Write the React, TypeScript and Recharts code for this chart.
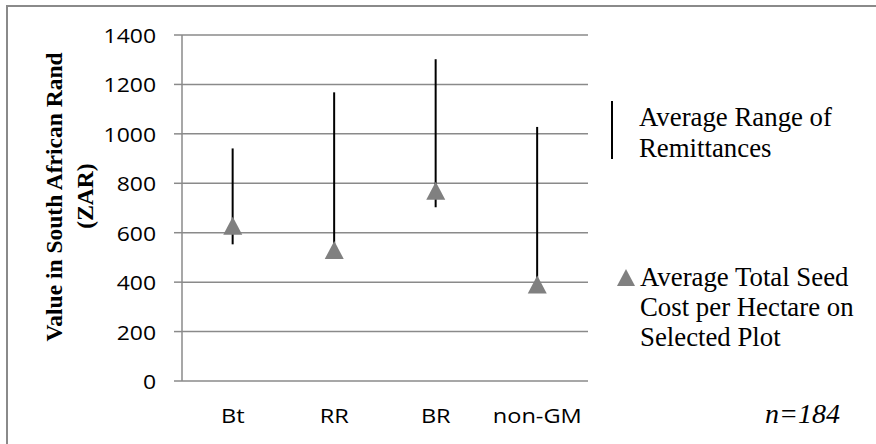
import React from 'react';
import { ComposedChart, Bar, Scatter, XAxis, YAxis, CartesianGrid } from 'recharts';

const categories = ['Bt', 'RR', 'BR', 'non-GM'];
const rangeLow = [553, 530, 703, 390];
const rangeHigh = [941, 1168, 1302, 1028];
const seedCost = [628, 530, 770, 390];
const yTicks = [0, 200, 400, 600, 800, 1000, 1200, 1400];
const boundaryTicks = [0, 1, 2, 3, 4];

const data = categories.map((name, i) => ({
  name,
  range: [rangeLow[i], rangeHigh[i]],
  cost: seedCost[i],
}));

const GRID = '#8a8a8a';
const SANS = '"Open Sans", "Noto Sans", sans-serif';
const SERIF = '"Liberation Serif", "Times New Roman", serif';

const YTick = (props: any) => {
  const { x, y, payload } = props;
  return (
    <text
      transform={`translate(${x},${y}) scale(1.12,1)`}
      textAnchor="end"
      dominantBaseline="central"
      fontFamily={SANS}
      fontSize={20.5}
      fill="#000"
    >
      {payload.value}
    </text>
  );
};

const XTick = (props: any) => {
  const { x, y, payload } = props;
  return (
    <text
      transform={`translate(${x},${y + 34}) scale(1.15,1)`}
      textAnchor="middle"
      dominantBaseline="central"
      fontFamily={SANS}
      fontSize={20.5}
      fill="#000"
    >
      {payload.value}
    </text>
  );
};

const RangeShape = (p: any) => {
  const cx = p.x + p.width / 2;
  const top = Math.min(p.y, p.y + p.height);
  const bot = Math.max(p.y, p.y + p.height);
  return <line x1={cx} x2={cx} y1={top} y2={bot} stroke="#000" strokeWidth={2} />;
};

const TriShape = (p: any) => {
  const { cx, cy } = p;
  return (
    <polygon
      points={`${cx},${cy - 9} ${cx + 9.5},${cy + 9} ${cx - 9.5},${cy + 9}`}
      fill="#808080"
    />
  );
};

const YLabel = () => (
  <g fontFamily={SERIF} fontWeight="bold" fontSize={23.5} fill="#000">
    <text transform="translate(54,197) rotate(-90)" textAnchor="middle" dominantBaseline="central">
      Value in South African Rand
    </text>
    <text transform="translate(85,196) rotate(-90)" textAnchor="middle" dominantBaseline="central">
      (ZAR)
    </text>
  </g>
);

export default function App() {
  return (
    <div style={{ position: 'absolute', left: 0, top: 0, width: 876, height: 444, overflow: 'hidden', background: '#fff' }}>
      <div
        style={{
          position: 'absolute',
          left: 6,
          top: 5,
          width: 900,
          height: 460,
          borderLeft: '2px solid #8a8a8a',
          borderTop: '2px solid #8a8a8a',
        }}
      />
      <div style={{ position: 'absolute', left: 0, top: 0 }}>
        <ComposedChart width={876} height={444} data={data} margin={{ top: 35, right: 288, bottom: 0, left: 0 }}>
          <CartesianGrid vertical={false} stroke={GRID} strokeWidth={1.5} xAxisId="cat" />
          <XAxis
            xAxisId="grid"
            type="number"
            domain={[0, 4]}
            ticks={boundaryTicks}
            tick={false}
            tickSize={8}
            height={0}
            axisLine={{ stroke: GRID, strokeWidth: 1.5 }}
            tickLine={{ stroke: GRID, strokeWidth: 1.5 }}
          />
          <XAxis
            xAxisId="cat"
            dataKey="name"
            axisLine={false}
            tickLine={false}
            tickSize={0}
            tickMargin={0}
            height={63}
            tick={<XTick />}
            interval={0}
          />
          <YAxis
            width={182}
            domain={[0, 1400]}
            ticks={yTicks}
            tickSize={8}
            tickMargin={18}
            axisLine={{ stroke: GRID, strokeWidth: 1.5 }}
            tickLine={{ stroke: GRID, strokeWidth: 1.5 }}
            tick={<YTick />}
            label={<YLabel />}
          />
          <Bar xAxisId="cat" dataKey="range" shape={<RangeShape />} isAnimationActive={false} />
          <Scatter xAxisId="cat" dataKey="cost" shape={<TriShape />} isAnimationActive={false} />
        </ComposedChart>
      </div>
      <div style={{ position: 'absolute', left: 0, top: 0, width: 876, height: 444, pointerEvents: 'none' }}>
        <svg width={876} height={444} style={{ position: 'absolute', left: 0, top: 0 }}>
          <line x1={612} x2={612} y1={101} y2={159} stroke="#000" strokeWidth={2} />
          <polygon points="626,269 635,286 617,286" fill="#808080" />
          <g fontFamily={SERIF} fontSize={26.8} fill="#000">
            <text x={639} y={117} dominantBaseline="central">Average Range of</text>
            <text x={639} y={148} dominantBaseline="central">Remittances</text>
            <text x={640} y={277} dominantBaseline="central">Average Total Seed</text>
            <text x={640} y={307} dominantBaseline="central">Cost per Hectare on</text>
            <text x={640} y={337} dominantBaseline="central">Selected Plot</text>
            <text x={765} y={413} dominantBaseline="central" fontStyle="italic" fontSize={28}>n=184</text>
          </g>
        </svg>
      </div>
    </div>
  );
}
